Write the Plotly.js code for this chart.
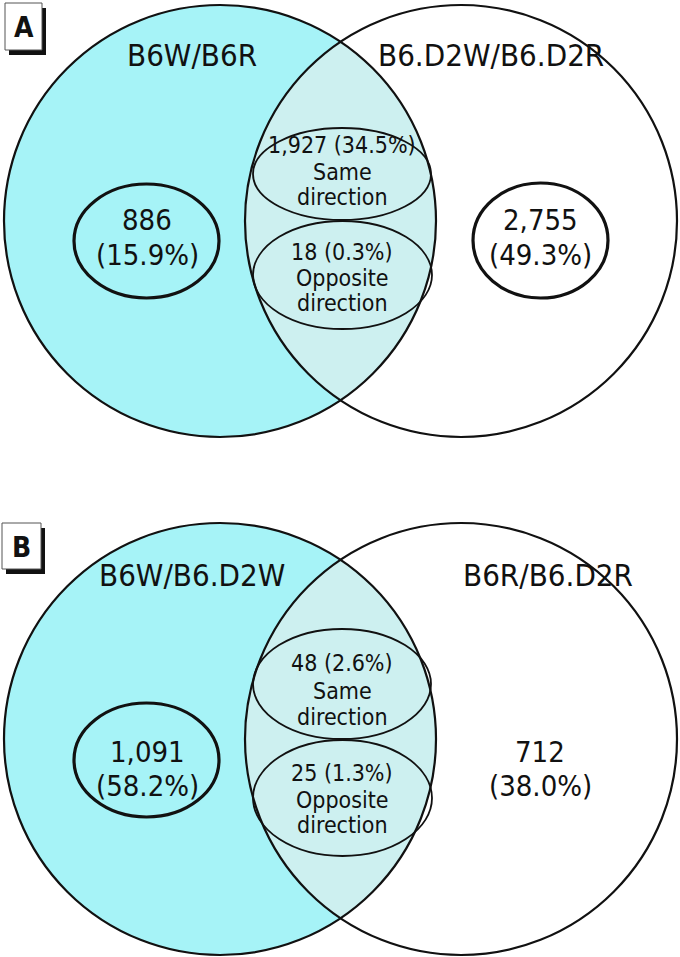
<!DOCTYPE html>
<html>
<head>
<meta charset="utf-8">
<script src="https://cdn.plot.ly/plotly-3.0.1.min.js"></script>
<style>html,body{margin:0;padding:0;background:#fff}#chart{width:680px;height:957px}</style>
</head>
<body>
<div id="chart"></div>
<script>
// ---- data ----
const panelLetters = ["A", "B"];
const leftSetLabels = ["B6W/B6R", "B6W/B6.D2W"];
const rightSetLabels = ["B6.D2W/B6.D2R", "B6R/B6.D2R"];
const leftOnlyCounts = [886, 1091];
const leftOnlyPct = [15.9, 58.2];
const rightOnlyCounts = [2755, 712];
const rightOnlyPct = [49.3, 38.0];
const sameDirCounts = [1927, 48];
const sameDirPct = [34.5, 2.6];
const oppDirCounts = [18, 25];
const oppDirPct = [0.3, 1.3];
const sameLabel = ["Same", "direction"];
const oppLabel = ["Opposite", "direction"];
const rightOnlyCircled = [true, false];

// ---- layout geometry (pixel-space coordinates) ----
const FONT = '"Liberation Sans Narrow", "DejaVu Sans Condensed", "Arial Narrow", sans-serif';
const INK = '#111111';
const CYAN = '#a6f3f7';
const LENS = '#cdf0f0';
const geo = [
  {cy: 221, boxY0: 3, boxY1: 50, boxX0: 5, boxX1: 42, lab: 55,
   sameCy: 174, sameRy: 46, oppCy: 275, oppRy: 54,
   sideCy: 241, sideRy: 57, sameT: [145, 172, 197], oppT: [252, 278, 303], sideT: [220, 255]},
  {cy: 739, boxY0: 523, boxY1: 569, boxX0: 2, boxX1: 41, lab: 575,
   sameCy: 684, sameRy: 55, oppCy: 798, oppRy: 58,
   sideCy: 760, sideRy: 57, sameT: [663, 691, 717], oppT: [773, 800, 825], sideT: [752, 786]}
];
const cx1 = 220, cx2 = 461, R = 216;

const fmt = n => n.toLocaleString('en-US');
const shapes = [];
const ann = [];

function lensPath(cy) {
  const d = cx2 - cx1;
  const h = Math.sqrt(R * R - (d / 2) * (d / 2));
  const xm = (cx1 + cx2) / 2;
  const pts = [];
  const N = 80;
  const top = Math.atan2(-h, xm - cx2) + 2 * Math.PI;
  const bot = Math.atan2(h, xm - cx2);
  for (let i = 0; i <= N; i++) {
    const t = top + (bot - top) * i / N;
    pts.push([cx2 + R * Math.cos(t), cy + R * Math.sin(t)]);
  }
  const bot2 = Math.atan2(h, xm - cx1);
  const top2 = Math.atan2(-h, xm - cx1);
  for (let i = 0; i <= N; i++) {
    const t = bot2 + (top2 - bot2) * i / N;
    pts.push([cx1 + R * Math.cos(t), cy + R * Math.sin(t)]);
  }
  return 'M' + pts.map(p => p[0].toFixed(2) + ',' + p[1].toFixed(2)).join('L') + 'Z';
}

function txt(x, y, text, size, extra) {
  ann.push(Object.assign({x: x, y: y, xref: 'x', yref: 'y', text: text, showarrow: false,
    xanchor: 'center', yanchor: 'middle', font: {family: FONT, size: size, color: INK}}, extra || {}));
}

for (let p = 0; p < 2; p++) {
  const g = geo[p];
  shapes.push({type: 'circle', xref: 'x', yref: 'y', x0: cx1 - R, x1: cx1 + R, y0: g.cy - R, y1: g.cy + R,
    fillcolor: CYAN, line: {width: 0}, layer: 'below'});
  shapes.push({type: 'path', xref: 'x', yref: 'y', path: lensPath(g.cy), fillcolor: LENS, line: {width: 0}, layer: 'below'});
  shapes.push({type: 'circle', xref: 'x', yref: 'y', x0: cx1 - R, x1: cx1 + R, y0: g.cy - R, y1: g.cy + R,
    line: {color: INK, width: 2.2}});
  shapes.push({type: 'circle', xref: 'x', yref: 'y', x0: cx2 - R, x1: cx2 + R, y0: g.cy - R, y1: g.cy + R,
    line: {color: INK, width: 2.2}});
  shapes.push({type: 'circle', xref: 'x', yref: 'y', x0: 253, x1: 431, y0: g.sameCy - g.sameRy, y1: g.sameCy + g.sameRy,
    line: {color: INK, width: 1.8}});
  shapes.push({type: 'circle', xref: 'x', yref: 'y', x0: 253, x1: 432, y0: g.oppCy - g.oppRy, y1: g.oppCy + g.oppRy,
    line: {color: INK, width: 1.8}});
  shapes.push({type: 'circle', xref: 'x', yref: 'y', x0: 74, x1: 219, y0: g.sideCy - g.sideRy, y1: g.sideCy + g.sideRy,
    line: {color: INK, width: 3.2}});
  if (rightOnlyCircled[p]) {
    shapes.push({type: 'circle', xref: 'x', yref: 'y', x0: 473, x1: 608, y0: g.sideCy - g.sideRy - 1, y1: g.sideCy + g.sideRy,
      line: {color: INK, width: 3.2}});
  }
  shapes.push({type: 'rect', xref: 'x', yref: 'y', x0: g.boxX0 + 4, x1: g.boxX1 + 4, y0: g.boxY0 + 5, y1: g.boxY1 + 5,
    fillcolor: '#111', line: {width: 0}});
  shapes.push({type: 'rect', xref: 'x', yref: 'y', x0: g.boxX0, x1: g.boxX1, y0: g.boxY0, y1: g.boxY1,
    fillcolor: '#fff', line: {color: '#555', width: 1}});
  txt((g.boxX0 + g.boxX1) / 2, (g.boxY0 + g.boxY1) / 2 + 1, '<b>' + panelLetters[p] + '</b>', 28);

  txt(192, g.lab, leftSetLabels[p], 31);
  txt(p === 0 ? 491 : 548, g.lab, rightSetLabels[p], 31);

  txt(147, g.sideT[0], fmt(leftOnlyCounts[p]), 29);
  txt(147, g.sideT[1], '(' + leftOnlyPct[p].toFixed(1) + '%)', 29);
  txt(540, g.sideT[0], fmt(rightOnlyCounts[p]), 29);
  txt(540, g.sideT[1], '(' + rightOnlyPct[p].toFixed(1) + '%)', 29);

  txt(342, g.sameT[0], fmt(sameDirCounts[p]) + ' (' + sameDirPct[p].toFixed(1) + '%)', 23);
  txt(342, g.sameT[1], sameLabel[0], 23);
  txt(342, g.sameT[2], sameLabel[1], 23);
  txt(342, g.oppT[0], fmt(oppDirCounts[p]) + ' (' + oppDirPct[p].toFixed(1) + '%)', 23);
  txt(342, g.oppT[1], oppLabel[0], 23);
  txt(342, g.oppT[2], oppLabel[1], 23);
}

const layout = {
  width: 680, height: 957,
  margin: {l: 0, r: 0, t: 0, b: 0, pad: 0},
  paper_bgcolor: '#fff', plot_bgcolor: '#fff',
  xaxis: {range: [0, 680], visible: false, fixedrange: true},
  yaxis: {range: [957, 0], visible: false, fixedrange: true},
  showlegend: false,
  shapes: shapes,
  annotations: ann
};
Plotly.newPlot('chart', [{x: [], y: [], type: 'scatter', mode: 'markers', hoverinfo: 'skip'}], layout, {staticPlot: true});
</script>
</body>
</html>
